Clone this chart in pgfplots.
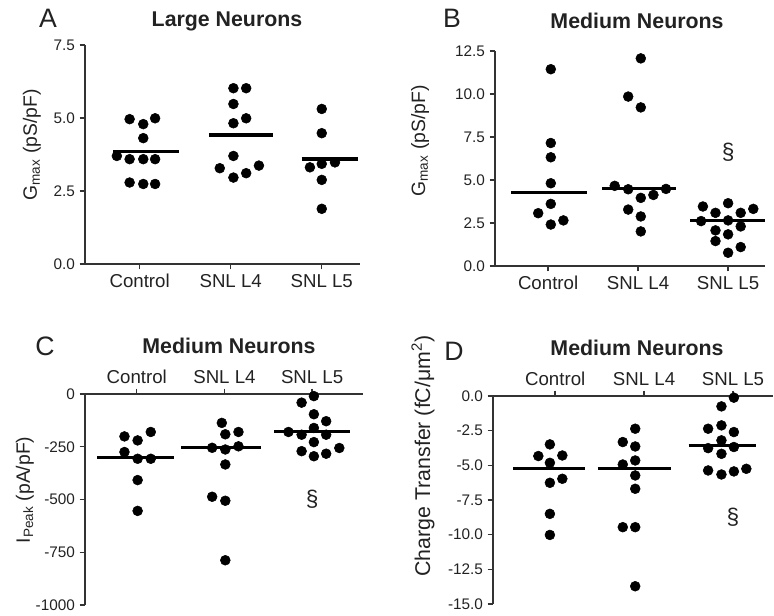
\documentclass[border=0pt]{standalone}
\usepackage{pgfplots}
\pgfplotsset{compat=1.18}
\usepackage{fontspec}
\setmainfont{Liberation Sans}
\definecolor{axgray}{HTML}{333333}
\definecolor{txt}{HTML}{222222}
\pgfplotsset{
  dotplot/.style={
    scale only axis,
    anchor=south west,
    clip=false,
    axis line style={line width=1.1pt, color=axgray, -},
    tick style={line width=1.1pt, color=axgray},
    major tick length=4pt,
    tick align=outside,
    xtick={0,1,2},
    xticklabels={Control,SNL L4,SNL L5},
    x tick label style={font=\fontsize{14}{16}\selectfont, text=txt},
    y tick label style={font=\fontsize{11.5}{13}\selectfont, text=txt},
    /pgf/number format/assume math mode=true,
    /pgf/number format/1000 sep={},
    every axis plot/.append style={black},
  },
  pts/.style={only marks, mark=*, mark size=3.7pt},
  mline/.style={no marks, line width=2.5pt},
}
\begin{document}
\begin{tikzpicture}
\useasboundingbox (0,0) rectangle (580.5pt,462pt);
% ---------- A ----------
\begin{axis}[dotplot,
  at={(63.75pt,264pt)}, width=206.25pt, height=164.25pt,
  axis x line*=bottom, axis y line*=left,
  xmin=-0.6, xmax=2.42, ymin=0, ymax=7.5,
  ytick={0,2.5,5,7.5},
  yticklabel style={/pgf/number format/.cd,fixed,fixed zerofill,precision=1},
]
\addplot[pts] coordinates {(-0.25,3.70) (-0.11,3.59) (0.04,3.59) (0.17,3.59) (-0.11,2.79) (0.04,2.74) (0.17,2.74) (-0.11,4.96) (0.04,4.79) (0.17,4.99) (0.04,4.31)};
\addplot[mline] coordinates {(-0.29,3.85) (0.43,3.85)};
\addplot[pts] coordinates {(1.03,6.02) (1.17,6.02) (1.03,5.48) (1.03,4.82) (1.17,4.99) (1.03,3.70) (0.88,3.28) (1.03,2.96) (1.17,3.11) (1.31,3.37)};
\addplot[mline] coordinates {(0.76,4.42) (1.47,4.42)};
\addplot[pts] coordinates {(2.0,5.31) (2.0,4.48) (1.87,3.31) (2.0,3.43) (2.145,3.48) (2.0,2.88) (2.0,1.89)};
\addplot[mline] coordinates {(1.78,3.59) (2.40,3.59)};
\end{axis}
% ---------- B ----------
\begin{axis}[dotplot,
  at={(371.25pt,262.5pt)}, width=202.5pt, height=161.25pt,
  axis x line*=bottom, axis y line*=left,
  xmin=-0.59, xmax=2.41, ymin=0, ymax=12.5,
  ytick={0,2.5,5,7.5,10,12.5},
  yticklabel style={/pgf/number format/.cd,fixed,fixed zerofill,precision=1},
]
\addplot[pts] coordinates {(0.03,11.44) (0.03,7.15) (0.03,6.32) (0.03,4.81) (0.03,3.61) (-0.11,3.07) (0.03,2.41) (0.17,2.65)};
\addplot[mline] coordinates {(-0.41,4.27) (0.43,4.27)};
\addplot[pts] coordinates {(1.03,12.07) (0.89,9.85) (1.03,9.22) (0.74,4.66) (0.89,4.46) (1.31,4.48) (1.03,3.96) (1.17,4.13) (0.89,3.28) (1.03,2.88) (1.03,2.01)};
\addplot[mline] coordinates {(0.60,4.52) (1.42,4.52)};
\addplot[pts] coordinates {(1.72,3.46) (1.86,3.09) (2.0,3.65) (2.14,3.09) (2.28,3.32) (1.70,2.61) (1.86,2.07) (2.0,2.65) (2.14,2.30) (2.0,1.84) (1.86,1.45) (2.14,1.10) (2.0,0.77)};
\addplot[mline] coordinates {(1.58,2.65) (2.41,2.65)};
\node[text=txt, font=\fontsize{17}{19}\selectfont] at (axis cs:2,6.6) {§};
\end{axis}
% ---------- C ----------
\begin{axis}[dotplot,
  at={(63.75pt,8.25pt)}, width=208.5pt, height=158.25pt,
  axis x line*=top, axis y line*=left,
  xmin=-0.59, xmax=2.58, ymin=-1000, ymax=0,
  ytick={-1000,-750,-500,-250,0},
]
\addplot[pts] coordinates {(-0.14,-201) (0.01,-220) (0.16,-180) (-0.14,-275) (0.01,-307) (0.16,-307) (0.01,-408) (0.01,-554)};
\addplot[mline] coordinates {(-0.45,-302) (0.43,-302)};
\addplot[pts] coordinates {(0.97,-137) (1.01,-191) (1.16,-180) (0.86,-255) (1.01,-263) (1.16,-248) (1.01,-334) (0.86,-487) (1.01,-506) (1.01,-788)};
\addplot[mline] coordinates {(0.51,-255) (1.42,-255)};
\addplot[pts] coordinates {(2.02,-10) (1.88,-41) (2.02,-96) (2.16,-129) (1.73,-180) (1.88,-193) (2.02,-161) (2.16,-193) (2.02,-228) (1.88,-271) (2.02,-295) (2.16,-283) (2.31,-256)};
\addplot[mline] coordinates {(1.57,-177) (2.43,-177)};
\node[text=txt, font=\fontsize{17}{19}\selectfont] at (axis cs:2,-498) {§};
\end{axis}
% ---------- D ----------
\begin{axis}[dotplot,
  at={(369.75pt,9pt)}, width=210pt, height=156pt,
  axis x line*=top, axis y line*=left,
  xmin=-0.70, xmax=2.45, ymin=-15, ymax=0,
  ytick={-15,-12.5,-10,-7.5,-5,-2.5,0},
  yticklabel style={/pgf/number format/.cd,fixed,fixed zerofill,precision=1},
]
\addplot[pts] coordinates {(-0.06,-3.49) (-0.19,-4.33) (0.08,-4.29) (-0.06,-4.82) (-0.06,-6.26) (0.08,-5.97) (-0.06,-8.50) (-0.06,-10.02)};
\addplot[mline] coordinates {(-0.47,-5.25) (0.34,-5.25)};
\addplot[pts] coordinates {(0.90,-2.36) (0.76,-3.32) (0.90,-3.64) (0.90,-4.65) (0.76,-4.94) (0.90,-5.73) (0.90,-6.69) (0.76,-9.46) (0.90,-9.46) (0.90,-13.72)};
\addplot[mline] coordinates {(0.48,-5.25) (1.30,-5.25)};
\addplot[pts] coordinates {(2.01,-0.12) (1.87,-0.75) (1.72,-2.36) (1.87,-2.12) (2.01,-2.60) (1.87,-3.20) (1.72,-3.76) (2.01,-3.68) (1.87,-4.17) (1.72,-5.37) (1.87,-5.66) (2.01,-5.44) (2.15,-5.25)};
\addplot[mline] coordinates {(1.50,-3.56) (2.26,-3.56)};
\node[text=txt, font=\fontsize{17}{19}\selectfont] at (axis cs:2,-8.74) {§};
\end{axis}
% ---------- texts ----------
\begin{scope}[x=0.75pt,y=-0.75pt,shift={(0,462pt)}]
\node[text=txt, font=\fontsize{20}{22}\selectfont] at (48,18) {A};
\node[text=txt, font=\fontsize{20}{22}\selectfont] at (452,18) {B};
\node[text=txt, font=\fontsize{20}{22}\selectfont] at (45,346) {C};
\node[text=txt, font=\fontsize{20}{22}\selectfont] at (454,351) {D};
\node[text=txt, font=\bfseries\fontsize{16}{18}\selectfont] at (227,21) {Large Neurons};
\node[text=txt, font=\bfseries\fontsize{16}{18}\selectfont] at (637,21) {Medium Neurons};
\node[text=txt, font=\bfseries\fontsize{16}{18}\selectfont] at (229,346) {Medium Neurons};
\node[text=txt, font=\bfseries\fontsize{16}{18}\selectfont] at (637,348) {Medium Neurons};
\node[text=txt, font=\fontsize{14.5}{16}\selectfont, rotate=90] at (32,145) {G\textsubscript{max} (pS/pF)};
\node[text=txt, font=\fontsize{14.5}{16}\selectfont, rotate=90] at (420,141) {G\textsubscript{max} (pS/pF)};
\node[text=txt, font=\fontsize{14.5}{16}\selectfont, rotate=90] at (25,490) {I\textsubscript{Peak} (pA/pF)};
\node[text=txt, font=\fontsize{16}{18}\selectfont, rotate=90] at (423,456) {Charge Transfer (fC/μm\textsuperscript{2})};
\end{scope}
\end{tikzpicture}
\end{document}
